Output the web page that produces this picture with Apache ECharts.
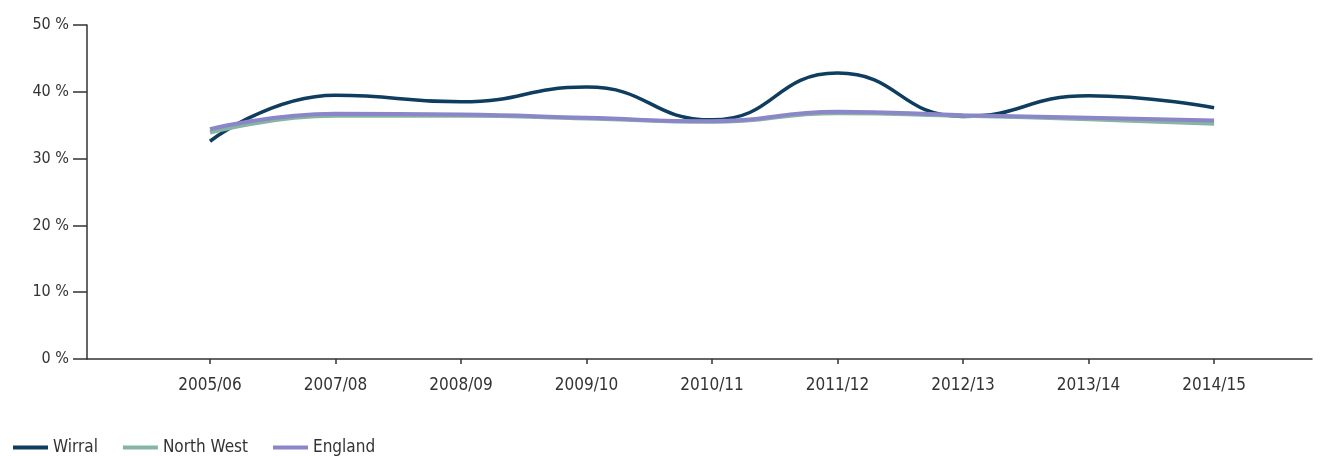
<!DOCTYPE html>
<html>
<head>
<meta charset="utf-8">
<script src="https://cdn.jsdelivr.net/npm/echarts@6/dist/echarts.min.js"></script>
<style>
    html, body { margin: 0; padding: 0; background: #fff; }
    #chart { width: 1328px; height: 456px; }
</style>
</head>
<body>
<div id="chart"></div>
<script>
const years = ['2005/06', '2007/08', '2008/09', '2009/10', '2010/11', '2011/12', '2012/13', '2013/14', '2014/15'];
const wirral = [32.6, 39.5, 38.5, 40.7, 35.8, 42.8, 36.3, 39.4, 37.6];
const northWest = [33.9, 36.4, 36.4, 36.0, 35.5, 36.8, 36.4, 35.9, 35.2];
const england = [34.4, 36.7, 36.6, 36.1, 35.6, 37.0, 36.5, 36.1, 35.7];
const yTicks = [0, 10, 20, 30, 40, 50];

const font = '"Liberation Sans Narrow", "DejaVu Sans Condensed", sans-serif';
const idx = years.map((y, i) => i);
const pairs = arr => arr.map((v, i) => [i, v]);

let chart = echarts.init(document.getElementById('chart'));

let option = {
    animation: false,
    textStyle: { fontFamily: font },
    grid: { left: 87, top: 25, right: 16, bottom: 97 },
    legend: {
        left: 8,
        top: 434,
        icon: 'rect',
        itemWidth: 35,
        itemHeight: 4,
        itemGap: 25,
        textStyle: { fontSize: 17, color: '#333', fontFamily: font },
        data: ['Wirral', 'North West', 'England']
    },
    xAxis: {
        type: 'value',
        min: -0.98,
        max: 8.78,
        splitLine: { show: false },
        axisLine: { onZero: false, lineStyle: { color: '#333', width: 1.5 } },
        axisTick: { customValues: idx, length: 5, lineStyle: { color: '#333', width: 1.5 } },
        axisLabel: {
            customValues: idx,
            formatter: v => years[Math.round(v)] || '',
            fontSize: 17,
            color: '#333',
            margin: 18,
            fontFamily: font
        }
    },
    yAxis: {
        type: 'value',
        min: 0,
        max: 50,
        interval: 10,
        splitLine: { show: false },
        axisLine: { show: true, onZero: false, lineStyle: { color: '#333', width: 1.5 } },
        axisTick: { show: true, length: 14, lineStyle: { color: '#333', width: 1.5 } },
        axisLabel: {
            formatter: v => yTicks.indexOf(v) >= 0 ? v + ' %' : '',
            fontSize: 16,
            color: '#333',
            margin: 18,
            fontFamily: font
        }
    },
    series: [
        {
            name: 'Wirral',
            type: 'line',
            smooth: 0.5,
            symbol: 'none',
            color: '#0e3d5f',
            lineStyle: { width: 3.5, color: '#0e3d5f' },
            data: pairs(wirral)
        },
        {
            name: 'North West',
            type: 'line',
            smooth: 0.5,
            symbol: 'none',
            color: '#86b5a2',
            lineStyle: { width: 4, color: '#86b5a2' },
            data: pairs(northWest)
        },
        {
            name: 'England',
            type: 'line',
            smooth: 0.5,
            symbol: 'none',
            color: '#8a86c8',
            lineStyle: { width: 4, color: '#8a86c8' },
            data: pairs(england)
        }
    ]
};

chart.setOption(option);
</script>
</body>
</html>
